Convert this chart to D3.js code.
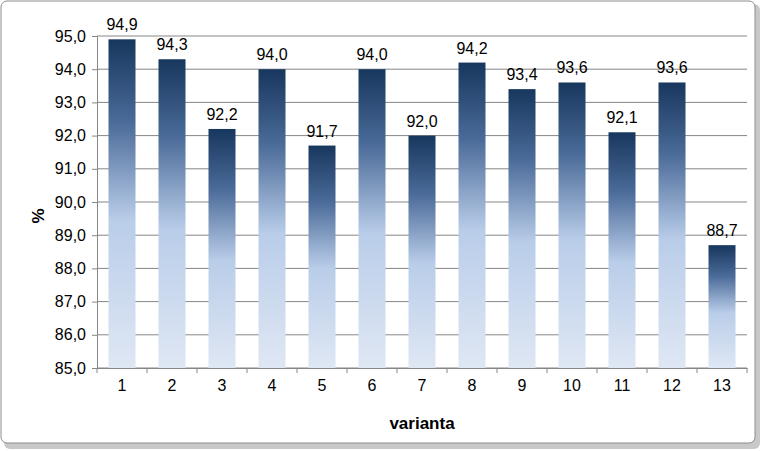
<!DOCTYPE html>
<html>
<head>
<meta charset="UTF-8" />
<script src="https://d3js.org/d3.v7.min.js"></script>
<style>
  body { margin: 0; background: #fff; }
  text { font-family: "Liberation Sans", "DejaVu Sans", sans-serif; }
</style>
</head>
<body>
<div id="chart"></div>
<script>
  const categories = ["1","2","3","4","5","6","7","8","9","10","11","12","13"];
  const values = [94.9, 94.3, 92.2, 94.0, 91.7, 94.0, 92.0, 94.2, 93.4, 93.6, 92.1, 93.6, 88.7];
  const yTicks = [85, 86, 87, 88, 89, 90, 91, 92, 93, 94, 95];

  const fmt = v => v.toFixed(1).replace(".", ",");

  const svg = d3.select("#chart").append("svg")
    .attr("width", 762).attr("height", 451);

  // shadow + border
  svg.append("rect").attr("x", 4).attr("y", 4).attr("width", 756).attr("height", 445)
    .attr("rx", 6).attr("fill", "#c8c8c8");
  svg.append("rect").attr("x", 1).attr("y", 1).attr("width", 754).attr("height", 442)
    .attr("rx", 6).attr("fill", "#fff").attr("stroke", "#8c8c8c");

  const defs = svg.append("defs");
  const grad = defs.append("linearGradient").attr("id", "barGrad")
    .attr("x1", 0).attr("y1", 0).attr("x2", 0).attr("y2", 1);
  grad.append("stop").attr("offset", "0%").attr("stop-color", "#17375e");
  grad.append("stop").attr("offset", "25%").attr("stop-color", "#4a6a98");
  grad.append("stop").attr("offset", "55%").attr("stop-color", "#b9cde9");
  grad.append("stop").attr("offset", "100%").attr("stop-color", "#dfe7f4");

  const mLeft = 97, mRight = 747, mTop = 36, mBottom = 368;

  const x = d3.scaleBand().domain(categories).range([mLeft, mRight]).paddingInner(0.46).paddingOuter(0.23);
  const y = d3.scaleLinear().domain([85, 95]).range([mBottom, mTop]);

  // gridlines
  svg.append("g").selectAll("line").data(yTicks).enter().append("line")
    .attr("x1", mLeft).attr("x2", mRight)
    .attr("y1", d => y(d)).attr("y2", d => y(d))
    .attr("stroke", "#868686").attr("stroke-width", 1);

  const yAxis = svg.append("g").attr("transform", `translate(${mLeft},0)`)
    .call(d3.axisLeft(y).tickValues(yTicks).tickFormat(fmt).tickSize(5).tickPadding(6));
  yAxis.select(".domain").attr("stroke", "#868686");
  yAxis.selectAll(".tick line").attr("stroke", "#868686");
  yAxis.selectAll("text").attr("font-size", 16).attr("fill", "#000");

  const xAxis = svg.append("g").attr("transform", `translate(0,${mBottom})`)
    .call(d3.axisBottom(x).tickSize(0).tickPadding(12));
  xAxis.select(".domain").attr("stroke", "#868686");
  xAxis.selectAll("text").attr("font-size", 16).attr("fill", "#000");
  // category separators
  svg.append("g").selectAll("line").data(d3.range(categories.length + 1)).enter().append("line")
    .attr("x1", i => mLeft + i * (mRight - mLeft) / categories.length)
    .attr("x2", i => mLeft + i * (mRight - mLeft) / categories.length)
    .attr("y1", mBottom).attr("y2", mBottom + 5).attr("stroke", "#868686");

  svg.append("g").selectAll("rect").data(values).enter().append("rect")
    .attr("x", (d, i) => x(categories[i]))
    .attr("y", d => y(d))
    .attr("width", x.bandwidth())
    .attr("height", d => mBottom - y(d))
    .attr("fill", "url(#barGrad)");

  svg.append("g").selectAll("text").data(values).enter().append("text")
    .attr("x", (d, i) => x(categories[i]) + x.bandwidth() / 2)
    .attr("y", d => y(d) - 9)
    .attr("text-anchor", "middle").attr("font-size", 16)
    .text(fmt);

  svg.append("text").attr("x", (mLeft + mRight) / 2).attr("y", 429)
    .attr("text-anchor", "middle").attr("font-size", 17).attr("font-weight", "bold")
    .text("varianta");

  svg.append("text").attr("transform", "translate(44,216) rotate(-90)")
    .attr("text-anchor", "middle").attr("font-size", 17).attr("font-weight", "bold")
    .text("%");
</script>
</body>
</html>
